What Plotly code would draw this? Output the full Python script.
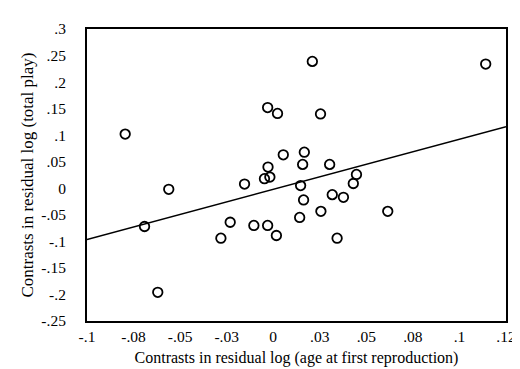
import plotly.graph_objects as go

x_vals = [-0.0795, -0.0561, -0.0154, 0.0210, 0.1141, -0.0030, 0.0023, 0.0254,
          0.0054, 0.0167, 0.0158, 0.0303, -0.0028, -0.0047, -0.0018, 0.0147,
          0.0447, 0.0430, 0.0163, 0.0317, 0.0377, -0.0231, -0.0104, -0.0030,
          0.0017, 0.0142, 0.0256, 0.0343, -0.0691, -0.0281, -0.0620, 0.0615]
y_vals = [0.102, -0.002, 0.008, 0.239, 0.234, 0.152, 0.141, 0.140,
          0.063, 0.068, 0.045, 0.045, 0.040, 0.018, 0.021, 0.005,
          0.026, 0.009, -0.022, -0.012, -0.017, -0.064, -0.070, -0.070,
          -0.089, -0.055, -0.0435, -0.094, -0.072, -0.094, -0.196, -0.0435]

line_x = [-0.1, 0.125]
line_y = [-0.0964, 0.116]

x_tickvals = [-0.1, -0.075, -0.05, -0.025, 0, 0.025, 0.05, 0.075, 0.1, 0.125]
x_ticktext = ["-.1", "-.08", "-.05", "-.03", "0", ".03", ".05", ".08", ".1", ".12"]
y_tickvals = [-0.25, -0.2, -0.15, -0.1, -0.05, 0, 0.05, 0.1, 0.15, 0.2, 0.25, 0.3]
y_ticktext = ["-.25", "-.2", "-.15", "-.1", "-.05", "0", ".05", ".1", ".15", ".2", ".25", ".3"]

font = dict(family="Liberation Serif", size=15.5, color="black")

fig = go.Figure()
fig.add_trace(go.Scatter(x=line_x, y=line_y, mode="lines",
                         line=dict(color="black", width=1.5), hoverinfo="skip"))
fig.add_trace(go.Scatter(x=x_vals, y=y_vals, mode="markers",
                         marker=dict(symbol="circle-open", size=9.5, color="black",
                                     line=dict(width=1.8, color="black"))))

fig.update_layout(
    width=520, height=369,
    margin=dict(l=79, r=13, t=18, b=56),
    paper_bgcolor="white", plot_bgcolor="white",
    showlegend=False, font=font,
    xaxis=dict(range=[-0.1, 0.125], tickvals=x_tickvals, ticktext=x_ticktext,
               showgrid=False, zeroline=False, showline=True, mirror=True,
               linecolor="black", linewidth=2, ticks="", ticklabelstandoff=0,
               title=dict(text="Contrasts in residual log (age at first reproduction)",
                          font=dict(family="Liberation Serif", size=16, color="black"),
                          standoff=8)),
    yaxis=dict(range=[-0.25, 0.3], tickvals=y_tickvals, ticktext=y_ticktext,
               showgrid=False, zeroline=False, showline=True, mirror=True,
               linecolor="black", linewidth=2, ticks="", ticklabelstandoff=16,
               title=dict(text="Contrasts in residual log (total play)",
                          font=dict(family="Liberation Serif", size=17, color="black"),
                          standoff=3)),
)

fig.write_html("out.html")
